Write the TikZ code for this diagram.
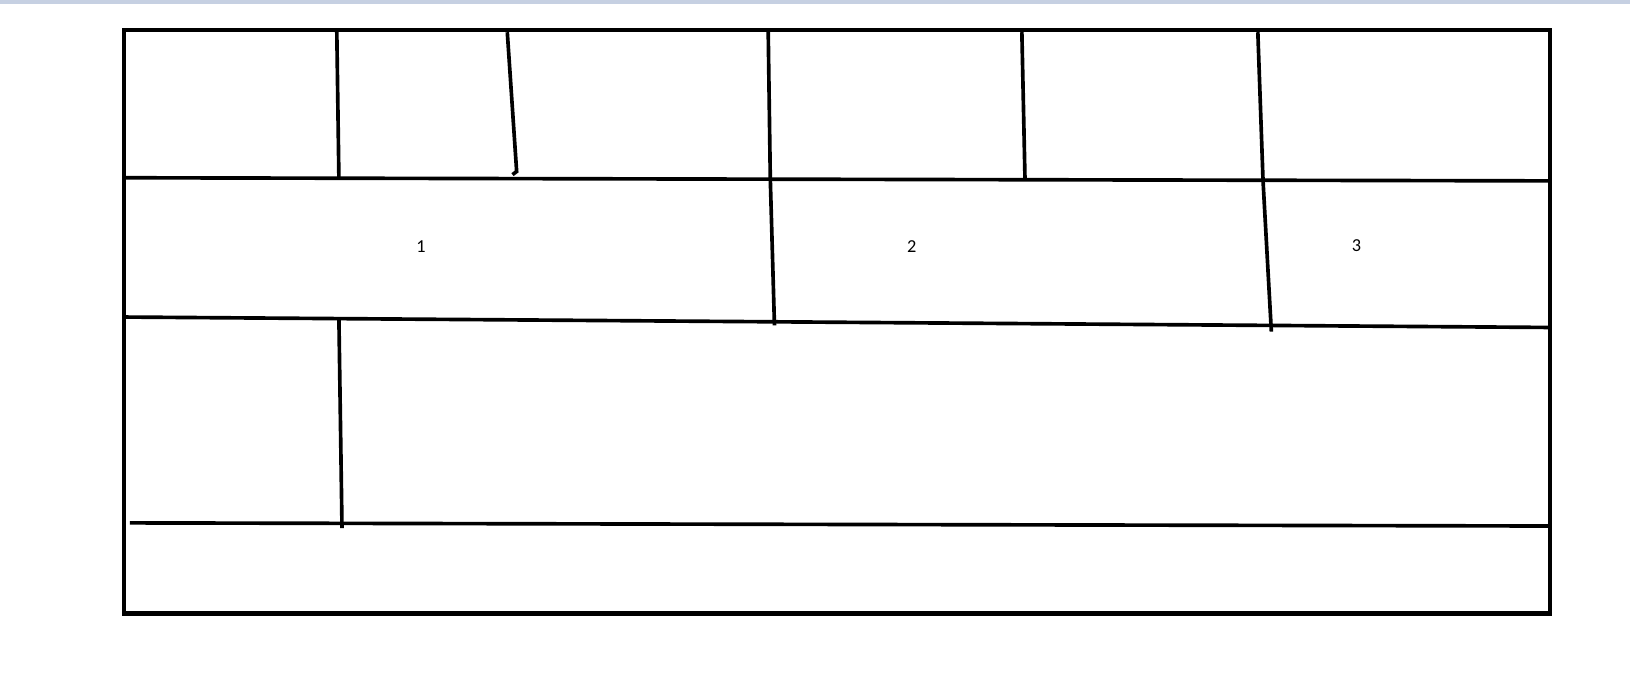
\documentclass[tikz,border=0pt]{standalone}
\usepackage{fontspec}
\setmainfont{Carlito}
\usetikzlibrary{positioning}
\definecolor{bandgray}{RGB}{198,208,226}
\begin{document}
\begin{tikzpicture}[x=0.1mm,y=0.1mm]
		\tikzstyle{every node}+=[inner sep=0pt,font=\fontsize{5}{6}\selectfont]
		\useasboundingbox (0,0) rectangle (1568,-664.7);
		\fill [bandgray] (0,0) rectangle (1568,-4);
		\draw [black,line width=1.2pt] (119,-29) rectangle (1491,-590);
		\draw [black,line width=1pt] (121,-171) -- (1489,-174);
		\draw [black,line width=1pt] (121,-305) -- (1489,-315);
		\draw [black,line width=1pt] (125,-503) -- (1489,-506);
		\draw [black,line width=1pt] (324,-31) -- (326,-171);
		\draw [black,line width=1pt] (488,-31) -- (497,-165) -- (493,-168);
		\draw [black,line width=1pt] (739,-31) -- (741,-172) -- (745,-313);
		\draw [black,line width=1pt] (983,-31) -- (986,-172);
		\draw [black,line width=1pt] (1210,-31) -- (1215,-174) -- (1223,-319);
		\draw [black,line width=1pt] (326,-305) -- (329,-508);
		\draw (405,-237) node (one) {1};
		\draw (877,-237) node (two) {2};
		\draw (1305,-236) node (three) {3};
		\end{tikzpicture}
\end{document}
